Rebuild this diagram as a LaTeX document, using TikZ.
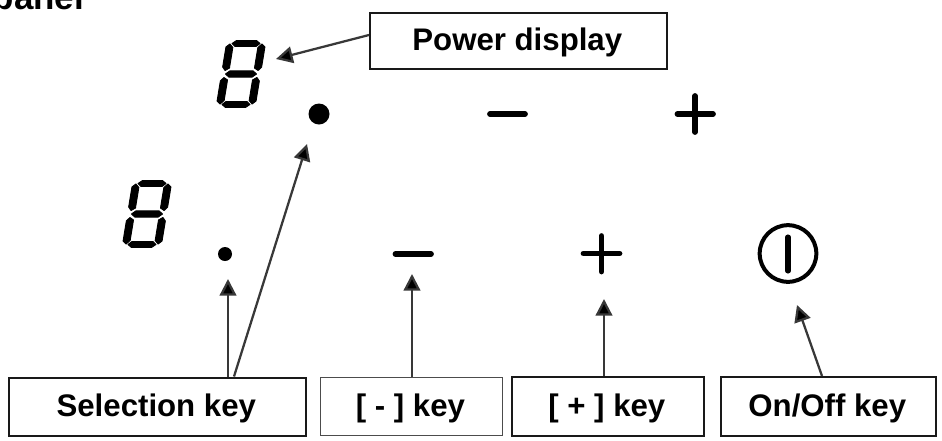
\documentclass[tikz,border=0pt]{standalone}
\usepackage{fontspec}
\setmainfont{Liberation Sans}
\usetikzlibrary{arrows.meta}
\tikzset{
  keybox/.style={draw=black!90,line width=1.7pt,fill=white,inner sep=0pt,text height=18.5pt,text depth=4.3pt,execute at end node={\kern2pt},font=\fontsize{23.4}{28}\selectfont\bfseries,anchor=north west},
  pointer/.style={draw=black!78,line width=1.7pt,-{Triangle[length=12.5pt,width=12.5pt,fill=black]}},
  symline/.style={line width=4.3pt,line cap=round,black},
  blackdot/.style={circle,fill=black,inner sep=0pt},
  segfill/.style={fill=black,draw=black,line width=0.7pt,line join=round},
  sevenseg/.pic={
    \begin{scope}[xslant=0.164]
      \foreach \sy in {1,-1}{
        \foreach \sx in {1,-1}{
          \path[segfill]
            (\sx*12.5,\sy*-6)--(\sx*12.5,\sy*-26.5)--(\sx*16,\sy*-30)--(\sx*19.5,\sy*-27)--(\sx*19.5,\sy*-7)--(\sx*16.5,\sy*-3.5)--cycle;
        }
        \path[segfill]
          (-10,\sy*-33.5)--(10,\sy*-33.5)--(14,\sy*-30.5)--(10.5,\sy*-27.5)--(-10.5,\sy*-27.5)--(-14,\sy*-30.5)--cycle;
      }
      \path[segfill]
        (-11.5,-3.2)--(11.5,-3.2)--(15.5,0)--(11.5,3.2)--(-11.5,3.2)--(-15.5,0)--cycle;
    \end{scope}
  }
}
\begin{document}
\begin{tikzpicture}[x=0.75pt,y=-0.75pt]
\useasboundingbox (0,0) rectangle (942,440);
\clip (0,0) rectangle (942,440);

% cropped title
\node[anchor=base west,inner sep=0pt,font=\fontsize{26.2}{30}\selectfont\bfseries] (title) at (-7.5,9) {panel};

% displays
\pic (dispA) at (241,74) {sevenseg};
\pic (dispB) at (147,214) {sevenseg};

% selection dots
\node[blackdot,minimum size=15.75pt] (dotA) at (319,114) {};
\node[blackdot,minimum size=10.5pt] (dotB) at (225,254) {};

% minus / plus / power symbols
\draw[symline] (490,114) -- (525,114);
\draw[symline] (677.5,114) -- (713,114) (695,96) -- (695,132);
\draw[symline] (395.5,254) -- (431,254);
\draw[symline] (583.5,253.5) -- (619.5,253.5) (601.5,236) -- (601.5,271.5);
\node[circle,draw=black,line width=3pt,minimum size=42.5pt,inner sep=0pt] (power) at (788,253.5) {};
\draw[line width=3.8pt,line cap=round,black] (788,237) -- (788,271);

% label boxes
\node[keybox,minimum width=222.75pt,minimum height=42pt] (pd) at (369,12) {Power display};
\node[keybox,minimum width=222.75pt,minimum height=43.5pt] (sel) at (8,377) {Selection key};
\node[keybox,draw=black!70,line width=1.1pt,minimum width=136.5pt,minimum height=43.5pt] (minus) at (320,377) {[ - ] key};
\node[keybox,minimum width=144pt,minimum height=44.25pt] (plus) at (511,376) {[ + ] key};
\node[keybox,minimum width=161.25pt,minimum height=44.25pt] (onoff) at (720,376) {On/Off key};

% arrow ends
\coordinate (tipPd) at (276,59);
\coordinate (startPd) at (369,35);
\coordinate (tipSelB) at (228,279);
\coordinate (tipSelA) at (307,144);
\coordinate (startSelA) at (234,376.5);
\coordinate (tipMinus) at (412,274);
\coordinate (tipPlus) at (604,299);
\coordinate (tipOn) at (797,305);
\coordinate (startOn) at (822,376);

\draw[pointer] (startPd) -- (tipPd);
\draw[pointer] (tipSelB |- sel.north) -- (tipSelB);
\draw[pointer] (startSelA) -- (tipSelA);
\draw[pointer] (tipMinus |- minus.north) -- (tipMinus);
\draw[pointer] (tipPlus |- plus.north) -- (tipPlus);
\draw[pointer] (startOn) -- (tipOn);
\end{tikzpicture}
\end{document}
